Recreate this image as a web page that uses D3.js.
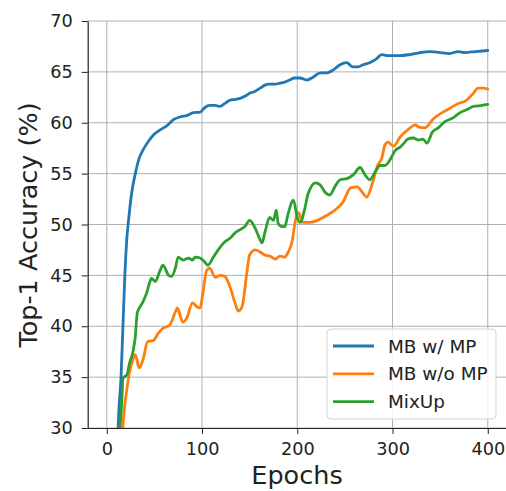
<!DOCTYPE html>
<html>
<head>
<meta charset="utf-8">
<script src="https://cdn.jsdelivr.net/npm/d3@7"></script>
<style>
  body { margin: 0; background: #fff; }
  svg { display: block; font-family: "DejaVu Sans", sans-serif; }
</style>
</head>
<body>
<svg id="chart" width="506" height="491"></svg>
<script>
// values: [epoch, top-1 accuracy]
let mbWithMP = [[11,26],[12,30],[15,35],[17,40],[19,45],[21,48.5],[23,50.5],[26,53],[30,55],[34,56.5],[38,57.3],
  [44,58.2],[49,58.8],[56,59.3],[63,59.7],[70,60.3],[78,60.6],[84,60.7],[91,61.0],[98,61.05],[103,61.5],[108,61.7],
  [114,61.7],[119,61.6],[124,61.9],[129,62.2],[135,62.3],[140,62.4],[145,62.6],[150,62.9],[156,63.1],[161,63.4],
  [166,63.7],[171,63.8],[177,63.8],[182,63.9],[187,64.0],[192,64.2],[197,64.4],[203,64.4],[210,64.2],[217,64.5],
  [224,64.9],[231,64.9],[238,65.2],[245,65.7],[252,65.9],[258,65.5],[264,65.5],[269,65.7],[276,65.9],[282,66.2],
  [289,66.7],[295,66.6],[308,66.6],[318,66.7],[329,66.9],[340,67.0],[350,66.9],[360,66.8],[369,67.0],[376,66.9],
  [387,67.0],[400,67.1]];

let mbWithoutMP = [[16,28],[17,30],[21,33.7],[24,35.5],[27,36.6],[30,37.2],[34,35.9],[38,36.7],[43,38.5],[49,38.6],
  [54,39.3],[59,39.8],[66,40.1],[72,41.4],[74,41.8],[80,40.4],[84,40.8],[90,42.3],[95,41.9],[98,41.8],[101,43.3],
  [105,45.5],[108,45.7],[114,44.8],[119,45.0],[124,44.9],[130,43.7],[135,42.2],[138,41.5],[142,41.9],[147,45.2],
  [150,47.0],[156,47.5],[161,47.3],[166,47.0],[171,46.9],[177,46.6],[182,46.9],[187,46.8],[190,47.2],[195,48.5],
  [198,50.4],[201,51.2],[206,50.2],[213,50.2],[221,50.4],[231,50.9],[242,51.6],[248,52.2],[256,53.6],[263,53.7],
  [268,53.2],[273,52.7],[279,54.1],[284,55.7],[289,56.6],[292,57.8],[295,58.1],[301,57.7],[308,58.6],[316,59.3],
  [324,59.8],[327,59.6],[334,59.5],[343,60.4],[352,61.0],[360,61.4],[369,61.9],[376,62.1],[384,62.8],[390,63.4],
  [395,63.4],[400,63.3]];

let mixUp = [[13,28],[14,30],[16,33],[17,34.9],[21,35.2],[24,36.4],[28,37.7],[30,39],[32,41.3],[35,41.9],[38,42.4],
  [42,43.3],[45,44.3],[47,44.7],[51,44.4],[56,45.5],[59,46.0],[65,45.0],[68,44.9],[72,45.7],[75,46.8],[80,46.5],
  [86,46.7],[90,46.5],[93,46.8],[98,46.7],[103,46.3],[106,46.0],[112,46.8],[117,47.5],[124,48.3],[130,48.7],
  [135,49.2],[140,49.5],[145,49.8],[150,50.4],[156,49.6],[161,48.5],[163,48.2],[166,49.2],[171,50.7],[175,50.4],
  [178,51.4],[180,50.1],[184,49.8],[187,49.8],[190,50.9],[196,52.4],[200,50.7],[203,50.2],[208,51.6],[211,52.9],
  [213,53.4],[219,54.1],[224,53.9],[229,53.2],[234,52.9],[240,53.8],[245,54.4],[252,54.5],[259,54.9],[266,55.6],
  [271,54.9],[276,54.4],[282,55.2],[287,55.8],[292,55.8],[297,56.3],[303,57.3],[308,57.6],[313,58.1],[316,58.4],
  [322,58.5],[327,58.3],[332,58.4],[336,58.0],[342,59.1],[348,59.5],[355,60.1],[364,60.5],[371,61.0],[378,61.3],
  [385,61.6],[394,61.7],[400,61.8]];

let seriesNames = ["MB w/ MP", "MB w/o MP", "MixUp"];
let seriesColors = ["#1f77b4", "#ff7f0e", "#2ca02c"];
let xTicks = [0, 100, 200, 300, 400];
let yTicks = [30, 35, 40, 45, 50, 55, 60, 65, 70];

const svg = d3.select("#chart");
const plotLeft = 87.7, plotRight = 506.8, plotTop = 21, plotBottom = 428;

let x = d3.scaleLinear().domain([-20, 420]).range([plotLeft, plotRight]);
let y = d3.scaleLinear().domain([30, 70]).range([plotBottom, plotTop]);

svg.append("defs").append("clipPath").attr("id", "plotclip")
  .append("rect").attr("x", plotLeft).attr("y", plotTop)
  .attr("width", plotRight - plotLeft).attr("height", plotBottom - plotTop);

// grid
svg.append("g").selectAll("line").data(xTicks).enter().append("line")
  .attr("x1", d => x(d)).attr("x2", d => x(d))
  .attr("y1", plotTop).attr("y2", plotBottom)
  .attr("stroke", "#b0b0b0").attr("stroke-width", 1);
svg.append("g").selectAll("line").data(yTicks).enter().append("line")
  .attr("x1", plotLeft).attr("x2", plotRight)
  .attr("y1", d => y(d)).attr("y2", d => y(d))
  .attr("stroke", "#b0b0b0").attr("stroke-width", 1);

// lines
let line = d3.line().x(d => x(d[0])).y(d => y(d[1])).curve(d3.curveMonotoneX);
let allSeries = [mbWithMP, mbWithoutMP, mixUp];
svg.append("g").attr("clip-path", "url(#plotclip)")
  .selectAll("path").data(allSeries).enter().append("path")
  .attr("d", d => line(d))
  .attr("fill", "none")
  .attr("stroke", (d, i) => seriesColors[i])
  .attr("stroke-width", 2.8)
  .attr("stroke-linejoin", "round")
  .attr("stroke-linecap", "round");

// axes
let xAxis = svg.append("g")
  .attr("transform", "translate(0," + plotBottom + ")")
  .call(d3.axisBottom(x).tickValues(xTicks).tickSize(6).tickPadding(8).tickSizeOuter(0));
let yAxis = svg.append("g")
  .attr("transform", "translate(" + plotLeft + ",0)")
  .call(d3.axisLeft(y).tickValues(yTicks).tickSize(6).tickPadding(9).tickSizeOuter(0));
[xAxis, yAxis].forEach(a => {
  a.selectAll("text").attr("font-size", 17.7).attr("fill", "#222").attr("font-family", "DejaVu Sans");
  a.selectAll("line").attr("stroke", "#222").attr("stroke-width", 1);
  a.select(".domain").attr("stroke", "#222").attr("stroke-width", 1.2);
});

// axis titles
svg.append("text")
  .attr("x", 297).attr("y", 484)
  .attr("text-anchor", "middle")
  .attr("font-size", 25.5).attr("fill", "#222")
  .text("Epochs");
svg.append("text")
  .attr("transform", "translate(37,225) rotate(-90)")
  .attr("text-anchor", "middle")
  .attr("font-size", 25.5).attr("fill", "#222")
  .text("Top-1 Accuracy (%)");

// legend
let leg = svg.append("g");
leg.append("rect")
  .attr("x", 327).attr("y", 329).attr("width", 169).attr("height", 90)
  .attr("rx", 4).attr("fill", "#fff").attr("fill-opacity", 0.85)
  .attr("stroke", "#d4d4d4").attr("stroke-width", 1);
let rows = leg.selectAll("g.row").data(seriesNames).enter().append("g")
  .attr("class", "row")
  .attr("transform", (d, i) => "translate(0," + (346 + i * 27.8) + ")");
rows.append("line")
  .attr("x1", 333).attr("x2", 374).attr("y1", 0).attr("y2", 0)
  .attr("stroke", (d, i) => seriesColors[i]).attr("stroke-width", 2.8);
rows.append("text")
  .attr("x", 388).attr("y", 0).attr("dy", "0.36em")
  .attr("font-size", 18.4).attr("fill", "#222")
  .text(d => d);
</script>
</body>
</html>
